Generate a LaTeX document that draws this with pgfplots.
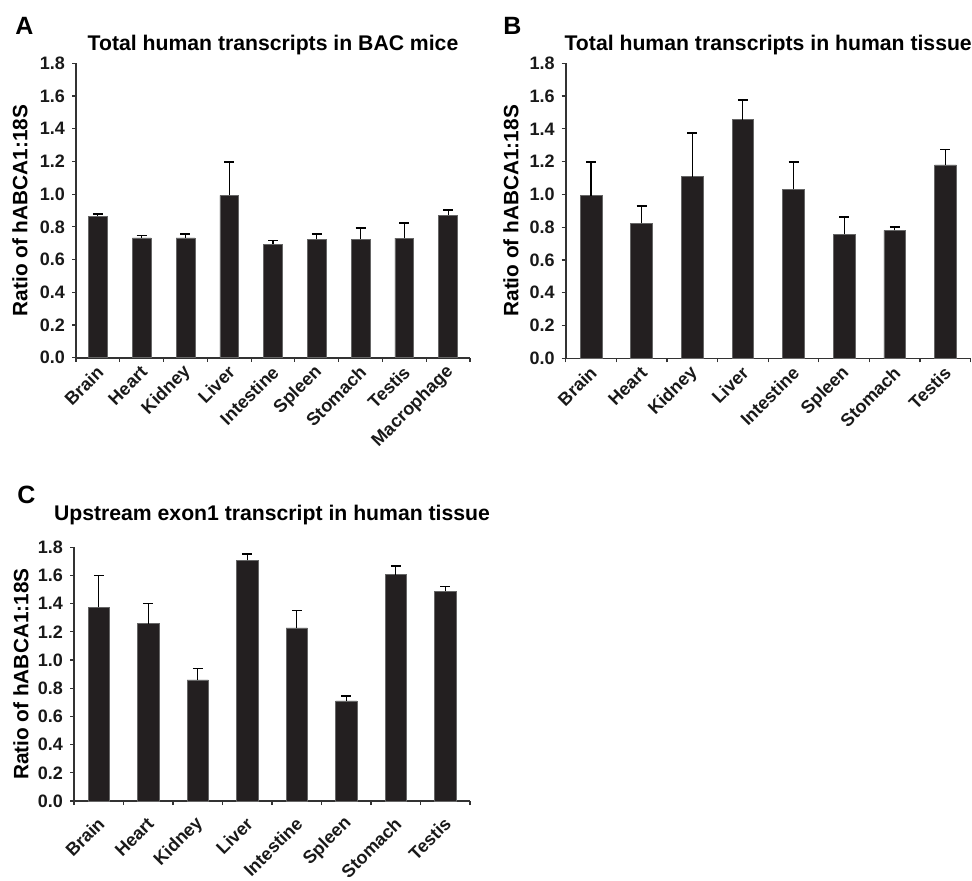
\documentclass[border=0pt]{standalone}
\usepackage{pgfplots}
\pgfplotsset{compat=1.18}
\usepackage{fontspec}
\setmainfont{Liberation Sans}
\definecolor{barfill}{RGB}{35,31,32}

\pgfplotstableread{
x y e
1 0.866 0.012
2 0.733 0.015
3 0.733 0.023
4 0.993 0.202
5 0.693 0.024
6 0.725 0.031
7 0.725 0.069
8 0.731 0.092
9 0.872 0.030
}\dataA
\pgfplotstableread{
x y e
1 0.992 0.206
2 0.824 0.107
3 1.108 0.265
4 1.456 0.120
5 1.031 0.167
6 0.757 0.107
7 0.781 0.022
8 1.180 0.095
}\dataB
\pgfplotstableread{
x y e
1 1.374 0.227
2 1.258 0.142
3 0.859 0.080
4 1.708 0.045
5 1.228 0.125
6 0.710 0.033
7 1.606 0.061
8 1.490 0.031
}\dataC

\pgfplotsset{
  panel/.style={
    scale only axis,
    axis lines=left,
    axis line style={-, line width=0.8pt, black!80},
    ymin=0, ymax=1.8,
    ytick={0,0.2,0.4,0.6,0.8,1.0,1.2,1.4,1.6,1.8},
    yticklabel style={/pgf/number format/.cd, fixed, fixed zerofill, precision=1, assume math mode=true},
    tick label style={font=\bfseries\fontsize{9}{10}\selectfont, black!90},
    tick align=outside,
    major tick length=2pt,
    tick style={line width=0.6pt, black!80},
    xticklabels={},
    ylabel={Ratio of hABCA1:18S},
    ylabel style={font=\bfseries\fontsize{10.4}{12}\selectfont, rotate=0, anchor=center},
    title style={font=\bfseries\fontsize{10.6}{12}\selectfont, at={(0.5,1)}, anchor=base},
  },
  bars/.style={
    ybar, bar width=0.43, fill=barfill, draw=black!60, line width=0.3pt,
    error bars/.cd, y dir=plus, y explicit,
    error bar style={line width=0.6pt, black},
    error mark options={rotate=90, mark size=2.5pt, line width=0.8pt, black}
  }
}

\begin{document}
\begin{tikzpicture}
\path[use as bounding box] (0,0) rectangle (486pt,440pt);

% Panel A
\begin{axis}[panel,
  at={(38pt,261.15pt)}, anchor=south west,
  width=197pt, height=147.2pt,
  xmin=0.5, xmax=9.5,
  xtick={0.5,1.5,2.5,3.5,4.5,5.5,6.5,7.5,8.5,9.5},
  extra x ticks={1,2,3,4,5,6,7,8,9},
  extra x tick labels={Brain,Heart,Kidney,Liver,Intestine,Spleen,Stomach,Testis,Macrophage},
  extra x tick style={major tick length=0pt, xticklabel style={xshift=2pt, yshift=-5pt, rotate=45, anchor=east, inner sep=1pt}},
  ylabel style={at={(axis description cs:-0.142,0.5)}},
  title={Total human transcripts in BAC mice},
  title style={yshift=0.3pt},
]
\addplot[bars] table[x=x, y=y, y error=e] {\dataA};
\end{axis}

% Panel B
\begin{axis}[panel,
  at={(282.85pt,260.85pt)}, anchor=south west,
  width=202.5pt, height=147.5pt,
  xmin=0.5, xmax=8.5,
  xtick={0.5,1.5,2.5,3.5,4.5,5.5,6.5,7.5,8.5},
  extra x ticks={1,2,3,4,5,6,7,8},
  extra x tick labels={Brain,Heart,Kidney,Liver,Intestine,Spleen,Stomach,Testis},
  extra x tick style={major tick length=0pt, xticklabel style={xshift=2pt, yshift=-5pt, rotate=45, anchor=east, inner sep=1pt}},
  ylabel style={at={(axis description cs:-0.135,0.5)}},
  title={Total human transcripts in human tissue},
  title style={yshift=0.3pt},
]
\addplot[bars] table[x=x, y=y, y error=e] {\dataB};
\end{axis}

% Panel C
\begin{axis}[panel,
  at={(37pt,39.5pt)}, anchor=south west,
  width=198pt, height=126.85pt,
  xmin=0.5, xmax=8.5,
  xtick={0.5,1.5,2.5,3.5,4.5,5.5,6.5,7.5,8.5},
  extra x ticks={1,2,3,4,5,6,7,8},
  extra x tick labels={Brain,Heart,Kidney,Liver,Intestine,Spleen,Stomach,Testis},
  extra x tick style={major tick length=0pt, xticklabel style={xshift=2pt, yshift=-9pt, rotate=45, anchor=east, inner sep=1pt}},
  ylabel style={at={(axis description cs:-0.134,0.5)}},
  title={Upstream exon1 transcript in human tissue},
  title style={yshift=7.5pt},
]
\addplot[bars] table[x=x, y=y, y error=e] {\dataC};
\end{axis}

\node[anchor=base west, font=\bfseries\fontsize{12.5}{14}\selectfont, inner sep=0pt] at (7.5pt,422.5pt) {A};
\node[anchor=base west, font=\bfseries\fontsize{12.5}{14}\selectfont, inner sep=0pt] at (251.5pt,422.5pt) {B};
\node[anchor=base west, font=\bfseries\fontsize{12.5}{14}\selectfont, inner sep=0pt] at (8.5pt,188.5pt) {C};
\end{tikzpicture}
\end{document}
